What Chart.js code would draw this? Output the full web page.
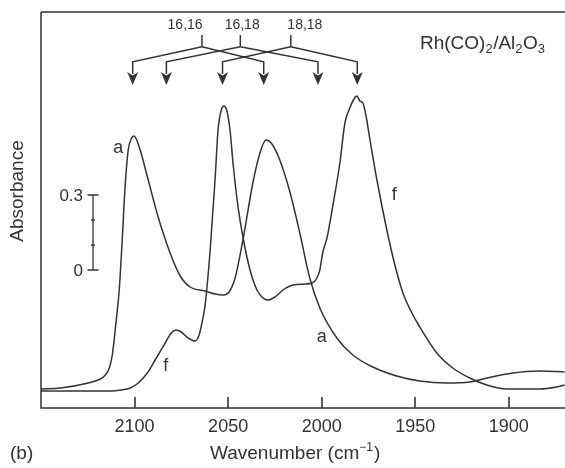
<!DOCTYPE html>
<html><head><meta charset="utf-8">
<script src="https://cdn.jsdelivr.net/npm/chart.js@4"></script>
<style>html,body{margin:0;padding:0;background:#fff;overflow:hidden}</style>
</head><body>
<canvas id="c" width="565" height="468"></canvas>
<script>
// ---- data (wavenumber in cm-1, absorbance in arbitrary offset units; scale bar 0..0.3) ----
const wavenumbersA = [2150,2139.6,2124.7,2118.3,2115.6,2113.5,2111.9,2109.8,2108.2,2106.6,2105.0,2103.4,2101.8,2100.4,2099.1,2097.0,2092.7,2087.4,2081.0,2075.6,2070.3,2062.3,2057.0,2052.7,2049.5,2046.3,2042.1,2036.8,2033.0,2029.8,2026.6,2022.4,2017.0,2011.7,2006.4,2001.0,1991.9,1983.4,1972.7,1959.9,1947.6,1933.2,1920.9,1911.8,1897.9,1883.6,1870.2];
const absorbanceA  = [-0.476,-0.472,-0.452,-0.436,-0.42,-0.392,-0.34,-0.2,-0.08,0.12,0.34,0.48,0.524,0.536,0.524,0.48,0.36,0.212,0.068,-0.024,-0.068,-0.084,-0.096,-0.1,-0.088,-0.032,0.12,0.348,0.468,0.52,0.504,0.44,0.312,0.148,-0.032,-0.152,-0.272,-0.34,-0.388,-0.424,-0.444,-0.452,-0.448,-0.432,-0.412,-0.404,-0.408];
const wavenumbersF = [2150,2129.0,2113.0,2107.1,2102.3,2098.0,2093.2,2089.0,2083.6,2080.4,2077.8,2075.1,2071.4,2067.6,2065.5,2063.9,2062.3,2059.6,2057.0,2055.4,2053.5,2052.4,2050.8,2049.0,2047.4,2044.7,2042.1,2038.3,2034.6,2031.4,2028.7,2025.0,2020.7,2015.4,2009.0,2005.2,2002.6,2001.0,1999.4,1997.2,1994.0,1990.3,1987.6,1985.0,1982.8,1981.2,1979.6,1978.0,1976.4,1974.2,1970.5,1965.2,1960.9,1956.6,1951.8,1947.6,1938.5,1930.0,1920.9,1911.8,1901.2,1883.6,1874.5,1870.2];
const absorbanceF  = [-0.484,-0.484,-0.484,-0.48,-0.472,-0.452,-0.412,-0.36,-0.292,-0.252,-0.24,-0.248,-0.272,-0.284,-0.26,-0.208,-0.14,0.08,0.36,0.56,0.644,0.656,0.64,0.56,0.428,0.252,0.132,0,-0.08,-0.112,-0.12,-0.108,-0.08,-0.06,-0.056,-0.052,-0.032,0,0.072,0.128,0.26,0.428,0.588,0.648,0.684,0.696,0.676,0.668,0.62,0.52,0.36,0.16,0.02,-0.092,-0.172,-0.228,-0.332,-0.392,-0.432,-0.46,-0.476,-0.476,-0.468,-0.46];
const xTicks = [2100, 2050, 2000, 1950, 1900];
const isotopeLabels = ['16,16', '16,18', '18,18'];
const isotopeLabelPos = [2073, 2042.5, 2009];
const isotopeStems = [2064, 2043.5, 2016.5];
const isotopeBands = [[2101, 2031], [2083, 2002], [2053, 1981]];
const scaleBarTicks = [0, 0.1, 0.2, 0.3];
const scaleBarLabels = ['0', '', '', '0.3'];
const scaleBarPos = 2122.2;
const curveLabelText = ['a', 'a', 'f', 'f'];
const curveLabelX = [2108.7, 2000.0, 2083.4, 1961.2];
const curveLabelY = [0.488, -0.268, -0.384, 0.3];

const FONT = '"Liberation Sans", Arial, Helvetica, sans-serif';
const INK = '#333';

const pts = (xs, ys) => xs.map((v, i) => ({x: v, y: ys[i]}));

const decor = {
  id: 'decor',
  afterDraw(chart) {
    const {ctx, chartArea: ca, scales: {x, y}} = chart;
    ctx.save();
    ctx.strokeStyle = INK; ctx.fillStyle = INK;
    // frame: left, top, bottom
    ctx.lineWidth = 1.5;
    ctx.beginPath();
    ctx.moveTo(ca.left, ca.top); ctx.lineTo(ca.left, ca.bottom); ctx.lineTo(ca.right, ca.bottom);
    ctx.moveTo(ca.left, ca.top); ctx.lineTo(ca.right, ca.top);
    ctx.stroke();
    // scale bar
    const bx = x.getPixelForValue(scaleBarPos);
    ctx.lineWidth = 1.3;
    ctx.beginPath();
    ctx.moveTo(bx, y.getPixelForValue(scaleBarTicks[0]));
    ctx.lineTo(bx, y.getPixelForValue(scaleBarTicks[scaleBarTicks.length - 1]));
    scaleBarTicks.forEach((v, i) => {
      const py = y.getPixelForValue(v);
      const w = (i === 0 || i === scaleBarTicks.length - 1) ? 5.5 : 2;
      ctx.moveTo(bx - w, py); ctx.lineTo(bx + w, py);
    });
    ctx.stroke();
    ctx.font = '17px ' + FONT; ctx.textAlign = 'right'; ctx.textBaseline = 'middle';
    scaleBarTicks.forEach((v, i) => { if (scaleBarLabels[i]) ctx.fillText(scaleBarLabels[i], bx - 10, y.getPixelForValue(v) + 1); });
    // isotope tree
    ctx.lineWidth = 1.5;
    const yTop = y.getPixelForValue(0.94), yStem = y.getPixelForValue(0.893), yCorner = y.getPixelForValue(0.833);
    const yHead = y.getPixelForValue(0.792), yTip = y.getPixelForValue(0.74);
    ctx.font = '14px ' + FONT; ctx.textAlign = 'center'; ctx.textBaseline = 'middle';
    isotopeLabels.forEach((lab, i) => {
      ctx.fillText(lab, x.getPixelForValue(isotopeLabelPos[i]), y.getPixelForValue(0.98));
      const sx = x.getPixelForValue(isotopeStems[i]);
      ctx.beginPath(); ctx.moveTo(sx, yTop); ctx.lineTo(sx, yStem); ctx.stroke();
      isotopeBands[i].forEach(b => {
        const bxx = x.getPixelForValue(b);
        ctx.beginPath(); ctx.moveTo(sx, yStem); ctx.lineTo(bxx, yCorner); ctx.lineTo(bxx, yHead + 2); ctx.stroke();
        ctx.beginPath();
        ctx.moveTo(bxx - 5.5, yHead); ctx.lineTo(bxx, yHead + 3.5); ctx.lineTo(bxx + 5.5, yHead); ctx.lineTo(bxx, yTip);
        ctx.closePath(); ctx.fill();
      });
    });
    // curve labels
    ctx.font = '18px ' + FONT; ctx.textAlign = 'center'; ctx.textBaseline = 'middle';
    curveLabelText.forEach((t, i) => ctx.fillText(t, x.getPixelForValue(curveLabelX[i]), y.getPixelForValue(curveLabelY[i])));
    // Rh(CO)2/Al2O3
    ctx.textAlign = 'left'; ctx.textBaseline = 'alphabetic';
    const parts = [['Rh(CO)', 0], ['2', 1], ['/Al', 0], ['2', 1], ['O', 0], ['3', 1]];
    let tx = 420; const base = 49;
    parts.forEach(([s, sub]) => {
      ctx.font = (sub ? '13px ' : '19px ') + FONT;
      ctx.fillText(s, tx, base + (sub ? 4 : 0));
      tx += ctx.measureText(s).width + (sub ? 0.5 : 0);
    });
    // axis titles
    ctx.font = '19px ' + FONT; ctx.textBaseline = 'middle'; ctx.textAlign = 'left';
    ctx.fillText('(b)', 10, 454);
    let wx = 210;
    ctx.fillText('Wavenumber (cm', wx, 454); wx += ctx.measureText('Wavenumber (cm').width;
    ctx.font = '12px ' + FONT; ctx.fillText('\u22121', wx, 448); wx += ctx.measureText('\u22121').width + 1;
    ctx.font = '19px ' + FONT; ctx.fillText(')', wx, 454);
    ctx.save(); ctx.translate(18, 191); ctx.rotate(-Math.PI / 2);
    ctx.textAlign = 'center'; ctx.fillText('Absorbance', 0, 0); ctx.restore();
    ctx.restore();
  }
};

const inwardTicks = {
  id: 'inwardTicks',
  afterDraw(chart) {
    const ctx = chart.ctx, ca = chart.chartArea, xs = chart.scales.x;
    ctx.save();
    ctx.fillStyle = INK;
    xTicks.forEach(v => {
      const p = xs.getPixelForValue(v);
      ctx.fillRect(Math.round(p) - 0.8, ca.bottom - 11, 1.6, 11);
    });
    ctx.restore();
  }
};

new Chart(document.getElementById('c'), {
  type: 'line',
  data: {
    datasets: [
      {label: 'a', data: pts(wavenumbersA, absorbanceA)},
      {label: 'f', data: pts(wavenumbersF, absorbanceF)}
    ]
  },
  options: {
    responsive: false, animation: false, devicePixelRatio: 1,
    layout: {padding: {left: 41, top: 12, right: 0, bottom: 0}},
    plugins: {legend: {display: false}, tooltip: {enabled: false}},
    elements: {
      point: {radius: 0},
      line: {borderWidth: 1.5, borderColor: '#333', cubicInterpolationMode: 'monotone', fill: false}
    },
    scales: {
      x: {
        type: 'linear', reverse: true, min: 1870, max: 2150,
        afterBuildTicks: s => { s.ticks = xTicks.map(v => ({value: v})); },
        afterFit: s => { s.height = 60; s.paddingLeft = 0; s.paddingRight = 0; },
        grid: {display: false, drawTicks: false}, border: {display: false},
        ticks: {padding: 8, color: INK, font: {size: 18, family: FONT}, maxRotation: 0, autoSkip: false,
                callback: v => String(v)}
      },
      y: {display: false, min: -0.552, max: 1.032}
    }
  },
  plugins: [decor, inwardTicks]
});
</script>
</body></html>
